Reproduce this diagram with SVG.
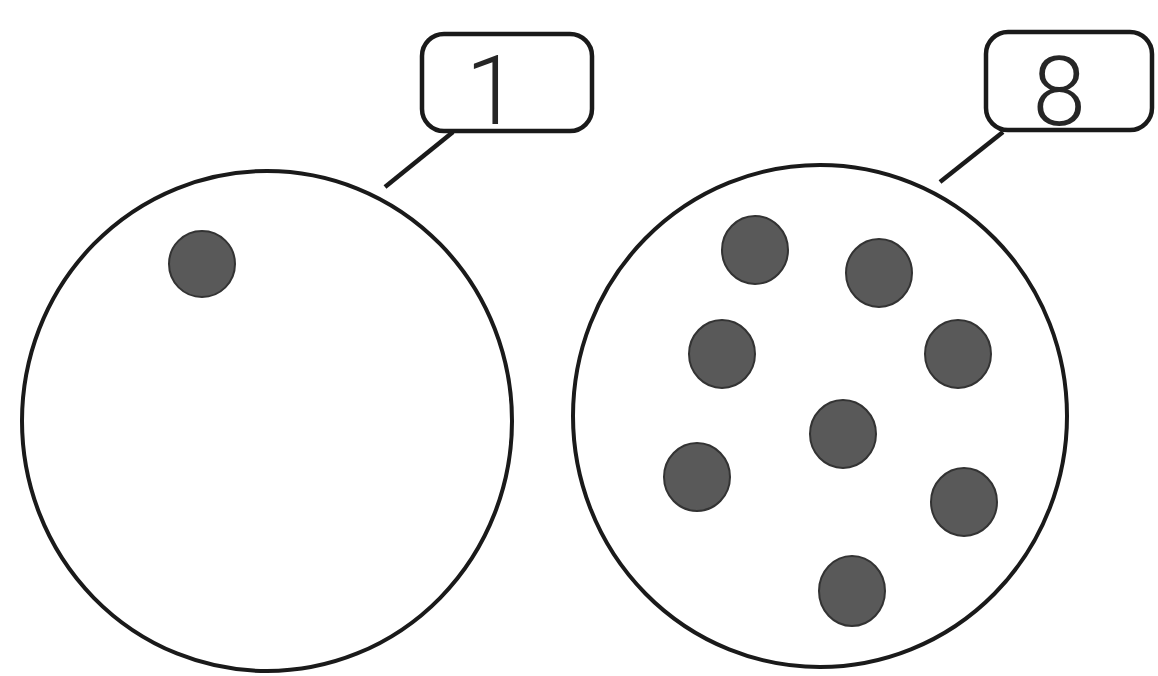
<svg xmlns="http://www.w3.org/2000/svg" width="1158" height="676" viewBox="0 0 1158 676">
<style>
.ring{fill:none;stroke:#1a1a1a;stroke-width:4}
.box{fill:#fff;stroke:#1a1a1a;stroke-width:4.5}
.lead{stroke:#1a1a1a;stroke-width:4.5;fill:none}
.dot{fill:#595959;stroke:#333;stroke-width:2}
.lbl{font-family:Roboto,"Liberation Sans",Arial,sans-serif;font-weight:300;font-size:96px;fill:#262626;text-anchor:middle}
</style>
<rect width="1158" height="676" fill="#fff"/>
<g id="connectors">
<line class="lead" x1="453" y1="132" x2="385" y2="187"/>
<line class="lead" x1="1003" y1="132" x2="940" y2="182"/>
</g>
<g id="left-set">
<ellipse class="ring" cx="267" cy="421" rx="245" ry="250"/>
<circle class="dot" cx="202" cy="264" r="33"/>
</g>
<g id="right-set">
<ellipse class="ring" cx="820" cy="416" rx="247" ry="251"/>
<ellipse class="dot" cx="755" cy="250" rx="33" ry="34"/>
<ellipse class="dot" cx="879" cy="273" rx="33" ry="34"/>
<ellipse class="dot" cx="722" cy="354" rx="33" ry="34"/>
<ellipse class="dot" cx="958" cy="354" rx="33" ry="34"/>
<ellipse class="dot" cx="843" cy="434" rx="33" ry="34"/>
<ellipse class="dot" cx="697" cy="477" rx="33" ry="34"/>
<ellipse class="dot" cx="964" cy="502" rx="33" ry="34"/>
<ellipse class="dot" cx="852" cy="591" rx="33" ry="35"/>
</g>
<g id="label-1">
<rect class="box" x="422" y="34" width="170" height="97" rx="22"/>
<text class="lbl" x="492" y="124">1</text>
</g>
<g id="label-8">
<rect class="box" x="986" y="32" width="166" height="98" rx="22"/>
<text class="lbl" x="1059" y="125">8</text>
</g>
</svg>
